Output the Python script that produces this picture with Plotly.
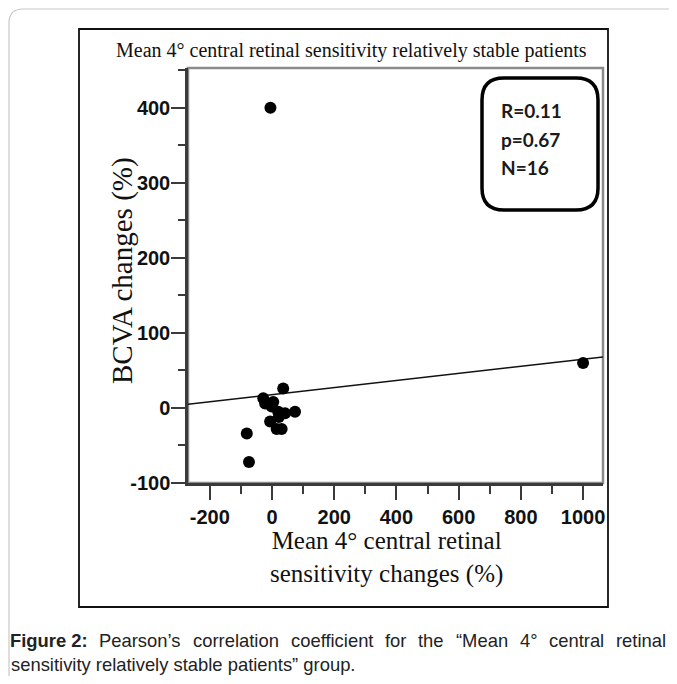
import plotly.graph_objects as go

# ---- data ----
sens_change = [-5, 1000, 36, -28, -22, 4, 74, 42, 20, -6, 15, 31, -81, -74, -1, 22]
bcva_change = [400, 60, 26, 13, 6, 8, -5, -7, -5, -18, -28, -28, -34, -72, 2, -12]
fit_x = [-270, 1064]
fit_y = [5, 68]
stats_lines = ["R=0.11", "p=0.67", "N=16"]
x_ticks = [-200, 0, 200, 400, 600, 800, 1000]
y_ticks = [-100, 0, 100, 200, 300, 400]

title_text = "Mean 4° central retinal sensitivity relatively stable patients"
x_title = "Mean 4° central retinal<br>sensitivity changes (%)"
y_title = "BCVA changes (%)"
caption1_words = [("Figure 2:", True), ("Pearson’s", False), ("correlation", False),
                  ("coefficient", False), ("for", False), ("the", False),
                  ("“Mean", False), ("4°", False), ("central", False), ("retinal", False)]
caption2 = "sensitivity relatively stable patients” group."

OFF = 8  # page body margin of the browser
W, H = 677 - OFF, 684 - 2 * OFF
L, R, T, B = 188 - OFF, 603 - OFF, 68 - OFF, 483 - OFF  # plot area in figure px
PW, PH = R - L, B - T


def px(x):
    return (x - OFF - L) / PW


def py(y):
    return (B - (y - OFF)) / PH


fig = go.Figure()
fig.add_trace(go.Scatter(x=fit_x, y=fit_y, mode="lines",
                         line=dict(color="#111111", width=1.5),
                         hoverinfo="skip", showlegend=False))
fig.add_trace(go.Scatter(x=sens_change, y=bcva_change, mode="markers",
                         marker=dict(color="#000000", size=12),
                         showlegend=False))

serif = "Liberation Serif, Times New Roman, serif"
sans = "Liberation Sans, Arial, sans-serif"

axis_common = dict(showgrid=False, zeroline=False, showline=True,
                   linecolor="#3a3a3a", linewidth=2.5, ticks="outside",
                   tickcolor="#3a3a3a", tickwidth=2, ticklen=14,
                   tickfont=dict(family=sans, size=20, color="#111111",
                                 weight="bold"))

fig.update_xaxes(range=[-270, 1064], tickvals=x_ticks,
                 ticktext=[str(v) for v in x_ticks],
                 minor=dict(dtick=100, tick0=0, ticks="outside", ticklen=8,
                            tickcolor="#3a3a3a", tickwidth=2, showgrid=False),
                 **axis_common)
fig.update_yaxes(range=[-100, 453], tickvals=y_ticks,
                 ticktext=[str(v) for v in y_ticks],
                 ticklabelstandoff=-3,
                 minor=dict(dtick=50, tick0=0, ticks="outside", ticklen=7,
                            tickcolor="#3a3a3a", tickwidth=2, showgrid=False),
                 **axis_common)


def rounded(x0p, y0p, x1p, y1p, rad):
    x0, x1, y0, y1 = px(x0p), px(x1p), py(y1p), py(y0p)
    r, rv = rad / PW, rad / PH
    return (f"M{x0+r},{y1} L{x1-r},{y1} Q{x1},{y1} {x1},{y1-rv} "
            f"L{x1},{y0+rv} Q{x1},{y0} {x1-r},{y0} L{x0+r},{y0} "
            f"Q{x0},{y0} {x0},{y0+rv} L{x0},{y1-rv} Q{x0},{y1} {x0+r},{y1} Z")


shapes = [
    # outer page border (rounded, light grey)
    dict(type="path", xref="paper", yref="paper", layer="below",
         path=rounded(9, 9, 700, 700, 14),
         line=dict(color="#c8c8c8", width=1.2)),
    # figure frame
    dict(type="rect", xref="paper", yref="paper", layer="below",
         x0=px(79), x1=px(608), y0=py(607), y1=py(29),
         line=dict(color="#111111", width=1.8)),
    # grey box around plot area (top / right)
    dict(type="rect", xref="paper", yref="paper", layer="below",
         x0=0, x1=1, y0=0, y1=1, line=dict(color="#8a8a8a", width=2.5)),
    # rounded stats box
    dict(type="path", xref="paper", yref="paper", layer="above",
         path=rounded(482, 78, 598, 210, 22),
         fillcolor="rgba(255,255,255,0)",
         line=dict(color="#000000", width=3.5)),
]

annotations = [
    dict(text=title_text, x=px(351), y=py(50), xref="paper", yref="paper",
         showarrow=False, xanchor="center", yanchor="middle",
         font=dict(family=serif, size=20, color="#111111")),
    dict(text=y_title, x=px(122), y=py(271), xref="paper", yref="paper",
         showarrow=False, textangle=-90, xanchor="center", yanchor="middle",
         font=dict(family=serif, size=29, color="#111111")),
    dict(text=x_title, x=px(386), y=py(557), xref="paper", yref="paper",
         showarrow=False, xanchor="center", yanchor="middle",
         font=dict(family=serif, size=25, color="#111111")),
]

fs = 18.4
annotations.append(dict(text=caption2, x=px(9), y=py(664), xref="paper", yref="paper",
                        showarrow=False, xanchor="left", yanchor="middle",
                        font=dict(family=sans, size=fs, color="#222222")))

# justified first caption line: Arial advance widths (per 1000 em)
reg = {' ': 278, 'F': 611, 'i': 222, 'g': 556, 'u': 556, 'r': 333, 'e': 556,
       '2': 556, ':': 278, 'P': 667, 'a': 556, 's': 500, 'o': 556, 'n': 556,
       '’': 222, 'c': 500, 'l': 222, 't': 278, 'f': 278, 'h': 556, '“': 333,
       'M': 833, '4': 556, '°': 400}
bold = {' ': 278, 'F': 611, 'i': 278, 'g': 611, 'u': 611, 'r': 389, 'e': 556,
        '2': 556, ':': 333}
widths = [sum((bold if b else reg)[ch] for ch in w) * fs / 1000 for w, b in caption1_words]
line_l, line_r = 8, 664
gap = (line_r - line_l - sum(widths)) / (len(widths) - 1)
cx = line_l
for (w, b), wd in zip(caption1_words, widths):
    annotations.append(dict(text=f"<b>{w}</b>" if b else w, x=px(cx), y=py(640),
                            xref="paper", yref="paper", showarrow=False,
                            xanchor="left", yanchor="middle",
                            font=dict(family=sans, size=fs, color="#222222")))
    cx += wd + gap

for s, yy in zip(stats_lines, [110, 139, 167]):
    annotations.append(dict(text=f"<b>{s}</b>", x=px(499), y=py(yy),
                            xref="paper", yref="paper", showarrow=False,
                            xanchor="left", yanchor="middle",
                            font=dict(family="Lato, Open Sans, sans-serif",
                                      size=19, color="#1a1a1a")))

fig.update_layout(width=W, height=H, autosize=False,
                  margin=dict(l=L, r=W - R, t=T, b=H - B, pad=0),
                  paper_bgcolor="white", plot_bgcolor="white",
                  shapes=shapes, annotations=annotations,
                  showlegend=False)

fig.write_html("out.html")
